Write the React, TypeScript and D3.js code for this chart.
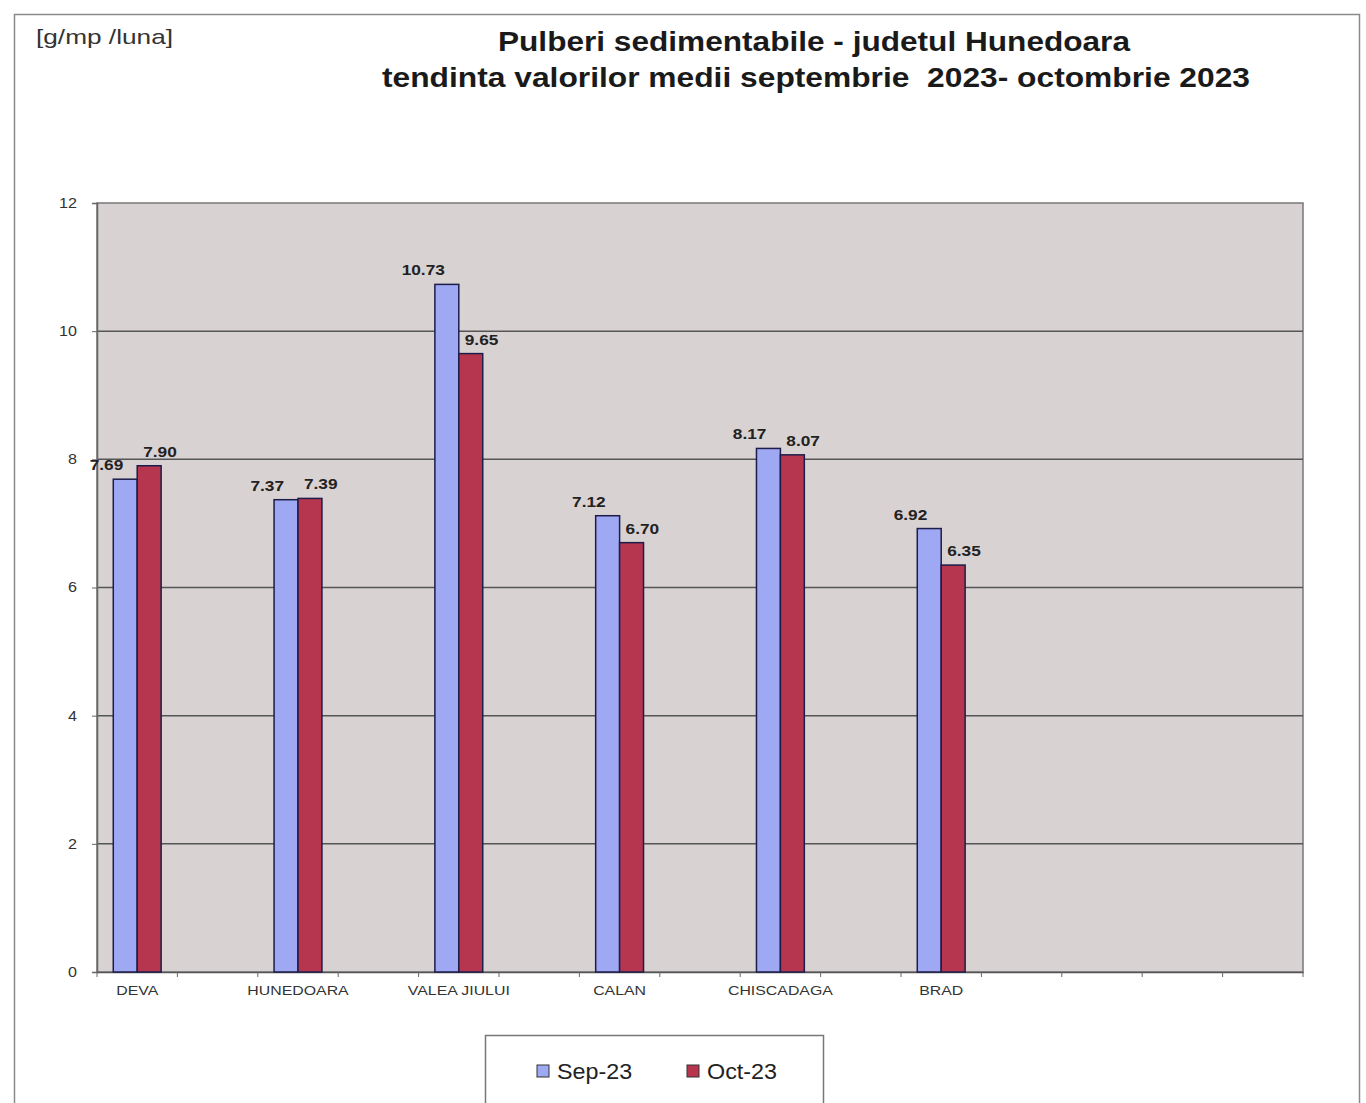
import { useEffect, useRef } from "react";
import * as d3 from "d3";

// categorii (sloturile goale sunt si ele pe axa, ca in original)
const categories = [
  "DEVA", "", "HUNEDOARA", "", "VALEA JIULUI", "", "CALAN", "",
  "CHISCADAGA", "", "BRAD", "", "", "", "",
];
const stations = ["DEVA", "HUNEDOARA", "VALEA JIULUI", "CALAN", "CHISCADAGA", "BRAD"];
const sep23 = [7.69, 7.37, 10.73, 7.12, 8.17, 6.92];
const oct23 = [7.9, 7.39, 9.65, 6.7, 8.07, 6.35];
const seriesNames = ["Sep-23", "Oct-23"];
const yTicks = [0, 2, 4, 6, 8, 10, 12];

const W = 1366;
const H = 1103;
const FONT = "'Liberation Sans', Arial, sans-serif";

// textul din scan e putin latit pe orizontala
const stretch = (sel: d3.Selection<any, any, any, any>, factor: number) => {
  sel.each(function () {
    const el = this as SVGTextElement;
    const len = el.getComputedTextLength();
    if (len > 0) {
      el.setAttribute("textLength", String(len * factor));
      el.setAttribute("lengthAdjust", "spacingAndGlyphs");
    }
  });
};

const App = () => {
  const svgRef = useRef<SVGSVGElement | null>(null);

  useEffect(() => {
    if (!svgRef.current) return;
    const root = d3.select(svgRef.current);
    root.selectAll("*").remove();

    const margin = { top: 203, right: 63, bottom: 131, left: 97 };
    const width = W - margin.left - margin.right;
    const height = H - margin.top - margin.bottom;

    // cadrul exterior
    root
      .append("rect")
      .attr("x", 14.5)
      .attr("y", 14.5)
      .attr("width", 1345)
      .attr("height", 1200)
      .attr("fill", "#fff")
      .attr("stroke", "#8a8a8a")
      .attr("stroke-width", 1.5);

    // unitate
    root
      .append("text")
      .attr("x", 36)
      .attr("y", 44)
      .attr("font-family", FONT)
      .attr("font-size", 21)
      .attr("fill", "#333")
      .attr("textLength", 137)
      .attr("lengthAdjust", "spacingAndGlyphs")
      .text("[g/mp /luna]");

    // titlu
    const title = root
      .append("text")
      .attr("text-anchor", "middle")
      .attr("font-family", FONT)
      .attr("font-weight", "bold")
      .attr("font-size", 28)
      .attr("fill", "#1a1a1a");
    title
      .append("tspan")
      .attr("x", 814)
      .attr("y", 51)
      .attr("textLength", 632)
      .attr("lengthAdjust", "spacingAndGlyphs")
      .text("Pulberi sedimentabile - judetul Hunedoara");
    title
      .append("tspan")
      .attr("x", 816)
      .attr("y", 87)
      .attr("xml:space", "preserve")
      .attr("textLength", 868)
      .attr("lengthAdjust", "spacingAndGlyphs")
      .text("tendinta valorilor medii septembrie  2023- octombrie 2023");

    const svg = root.append("g").attr("transform", `translate(${margin.left}, ${margin.top})`);

    const xScale = d3
      .scaleBand<number>()
      .domain(categories.map((_, i) => i))
      .range([0, width]);
    const xSub = d3
      .scaleBand<string>()
      .domain(seriesNames)
      .range([0, xScale.bandwidth()])
      .paddingInner(0)
      .paddingOuter(0.68);
    const yScale = d3.scaleLinear().domain([0, 12]).range([height, 0]);
    const color = d3.scaleOrdinal<string, string>().domain(seriesNames).range(["#9ea8f3", "#b7364f"]);

    // fundal zona grafic
    svg
      .append("rect")
      .attr("width", width)
      .attr("height", height)
      .attr("fill", "#d9d2d3")
      .attr("stroke", "#777")
      .attr("stroke-width", 1.5);

    // linii de grila
    svg
      .append("g")
      .selectAll("line")
      .data(yTicks.filter((t) => t > 0 && t < 12))
      .enter()
      .append("line")
      .attr("x1", 0)
      .attr("x2", width)
      .attr("y1", (d) => yScale(d))
      .attr("y2", (d) => yScale(d))
      .attr("stroke", "#555")
      .attr("stroke-width", 1.5);

    // axa Y
    const yAxis = svg
      .append("g")
      .call(d3.axisLeft(yScale).tickValues(yTicks).tickSize(5).tickPadding(15));
    yAxis.select(".domain").attr("stroke", "#666").attr("stroke-width", 1.5);
    yAxis.selectAll(".tick line").attr("stroke", "#666");
    const yLabels = yAxis
      .selectAll("text")
      .attr("font-family", FONT)
      .attr("font-size", 14)
      .attr("fill", "#333");
    stretch(yLabels, 1.15);

    // axa X
    const xAxis = svg
      .append("g")
      .attr("transform", `translate(0, ${height})`)
      .call(
        d3
          .axisBottom(xScale)
          .tickSize(0)
          .tickPadding(14)
          .tickFormat((i) => categories[i as number])
      );
    xAxis.select(".domain").attr("stroke", "#555").attr("stroke-width", 1.5);
    const xLabels = xAxis
      .selectAll("text")
      .attr("font-family", FONT)
      .attr("font-size", 13)
      .attr("fill", "#333");
    stretch(xLabels, 1.22);
    // semne intre categorii
    xAxis
      .selectAll(".sep")
      .data(d3.range(categories.length + 1))
      .enter()
      .append("line")
      .attr("class", "sep")
      .attr("x1", (i) => i * xScale.step())
      .attr("x2", (i) => i * xScale.step())
      .attr("y1", 0)
      .attr("y2", 5)
      .attr("stroke", "#666");

    const data = stations.map((name, i) => ({
      idx: categories.indexOf(name),
      values: [
        { key: seriesNames[0], value: sep23[i] },
        { key: seriesNames[1], value: oct23[i] },
      ],
    }));

    const groups = svg
      .append("g")
      .selectAll("g")
      .data(data)
      .enter()
      .append("g")
      .attr("transform", (d) => `translate(${xScale(d.idx)}, 0)`);

    groups
      .selectAll("rect")
      .data((d) => d.values)
      .enter()
      .append("rect")
      .attr("x", (d) => xSub(d.key) || 0)
      .attr("y", (d) => yScale(d.value))
      .attr("width", xSub.bandwidth())
      .attr("height", (d) => height - yScale(d.value))
      .attr("fill", (d) => color(d.key))
      .attr("stroke", "#1d1d4a")
      .attr("stroke-width", 1.5);

    // etichete valori
    const valueLabels = groups
      .selectAll("text")
      .data((d) => d.values)
      .enter()
      .append("text")
      .attr("x", (d, i) => (xSub(d.key) || 0) + xSub.bandwidth() / 2 + (i === 0 ? -2 : -6))
      .attr("y", (d) => yScale(d.value) - 9)
      .attr("text-anchor", (d, i) => (i === 0 ? "end" : "start"))
      .attr("font-family", FONT)
      .attr("font-weight", "bold")
      .attr("font-size", 15)
      .attr("fill", "#222")
      .text((d) => d.value.toFixed(2));
    stretch(valueLabels, 1.15);

    // legenda
    const legend = root.append("g");
    legend
      .append("rect")
      .attr("x", 485.5)
      .attr("y", 1035.5)
      .attr("width", 338)
      .attr("height", 100)
      .attr("fill", "#fff")
      .attr("stroke", "#777")
      .attr("stroke-width", 1.5);
    const items = legend
      .selectAll("g")
      .data(seriesNames)
      .enter()
      .append("g")
      .attr("transform", (_, i) => `translate(${537 + i * 150}, 1071)`);
    items
      .append("rect")
      .attr("x", 0)
      .attr("y", -6)
      .attr("width", 12)
      .attr("height", 12)
      .attr("fill", (d) => color(d))
      .attr("stroke", "#333")
      .attr("stroke-width", 1);
    const legendText = items
      .append("text")
      .attr("x", 20)
      .attr("y", 8)
      .attr("font-family", FONT)
      .attr("font-size", 22)
      .attr("fill", "#222")
      .text((d) => d);
    stretch(legendText, 1.06);
  }, []);

  return (
    <div style={{ position: "absolute", left: 0, top: 0, width: W, height: H, background: "#fff" }}>
      <svg ref={svgRef} width={W} height={H}></svg>
    </div>
  );
};

export default App;
